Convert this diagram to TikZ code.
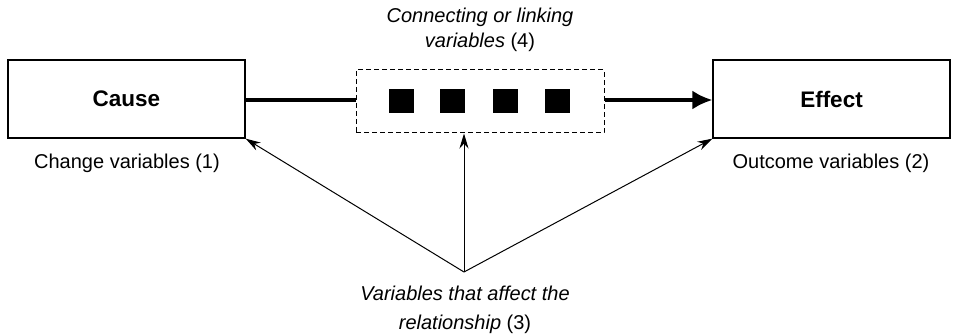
\documentclass[tikz,border=0pt]{standalone}
\usepackage{fontspec}
\setmainfont{Liberation Sans}
\usetikzlibrary{arrows.meta,calc}
\begin{document}
\begin{tikzpicture}[x=1pt,y=-1pt,
  lbl/.style={font=\fontsize{20}{25}\selectfont, inner sep=0pt, align=center},
  mainbox/.style={draw, line width=1.3pt, minimum width=237pt, minimum height=78pt, inner sep=0pt, font=\fontsize{22.5}{26}\selectfont\bfseries},
  sq/.style={fill=black, minimum width=25pt, minimum height=24pt, inner sep=0pt},
  thick arrow/.style={line width=3.3pt},
  thin arrow/.style={line width=1pt, -{Stealth[length=15pt,width=9pt]}}]
\useasboundingbox (0,0) rectangle (954,334);
\node[mainbox] (cause) at (126.5,99) {Cause};
\node[mainbox] (effect) at (831.5,99) {Effect};
\node[draw, dash pattern=on 5pt off 3pt, line width=1pt, minimum width=248pt, minimum height=63pt, inner sep=0pt] (link) at (480,101.5) {};
\node[sq] (s1) at (401,101) {};
\node[sq] (s2) at (452,101) {};
\node[sq] (s3) at (505,101) {};
\node[sq] (s4) at (557,101) {};
\draw[thick arrow] (cause.east |- 0,100) -- (link.west |- 0,100);
\draw[thick arrow, -{Latex[length=20pt,width=19pt]}] (link.east |- 0,100) -- (effect.west |- 0,100);
\node[lbl] (toplbl) at (480,30) {\itshape Connecting or linking\\\itshape variables \upshape(4)};
\node[lbl] (chg) at (127,163) {Change variables (1)};
\node[lbl] (out) at (831,163) {Outcome variables (2)};
\node[lbl, font=\fontsize{20}{28.5}\selectfont] (botlbl) at (465,310) {\itshape Variables that affect the\\\itshape relationship \upshape(3)};
\coordinate (apex) at (464,272);
\draw[thin arrow] (apex) -- (cause.south east);
\draw[thin arrow] (apex) -- (link.south -| apex);
\draw[thin arrow] (apex) -- (effect.south west);
\end{tikzpicture}
\end{document}
